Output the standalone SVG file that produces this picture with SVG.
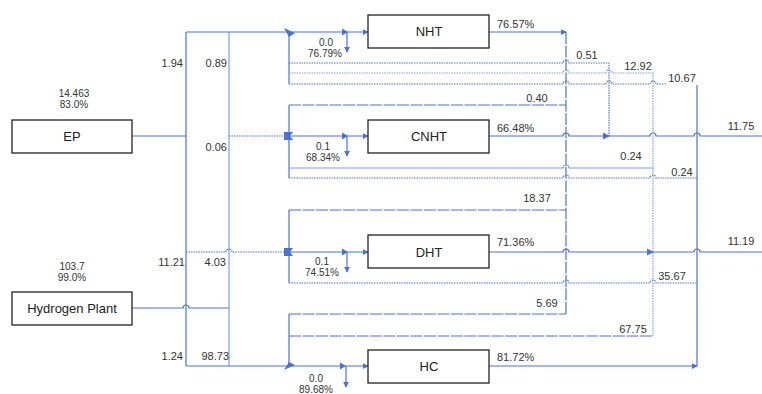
<svg xmlns="http://www.w3.org/2000/svg" width="762" height="394" viewBox="0 0 762 394">
<style>
.bg{fill:#ffffff}
.box rect{fill:#ffffff;stroke:#222;stroke-width:1.3}
.box text{font-family:"Liberation Sans",Arial,sans-serif;font-size:13px;fill:#222;text-anchor:middle}
.lbl{font-family:"Liberation Sans",Arial,sans-serif;font-size:11px;fill:#333}
.sm{font-size:10px}
.m{text-anchor:middle}
.e{text-anchor:end}
.ln{fill:none;stroke:#4a72d6;stroke-width:1.2}
.dot{stroke-dasharray:1.5 1}
.dash{stroke-dasharray:12 1.5}
.lt{stroke:#7f9ee6}
.ah{fill:#4a72d6}
</style>
<defs>
<marker id="arr" viewBox="0 0 8 8" refX="7" refY="4" markerWidth="6" markerHeight="6" orient="auto" markerUnits="userSpaceOnUse">
<path d="M0,0 L8,4 L0,8 z" fill="#4a72d6"/>
</marker>
</defs>
<rect class="bg" x="0" y="0" width="762" height="394"/>

<g id="connectors">
<!-- sources to headers -->
<path class="ln" d="M132,136 H186"/>
<path class="ln" d="M132,308 H183 a3,3 0 0 1 6,0 H229"/>
<path class="ln" d="M186,32 V366"/>
<path class="ln lt" d="M229,32 V366"/>
<!-- feeds -->
<path class="ln" d="M186,32 H368" marker-end="url(#arr)"/>
<path class="ln dot" d="M229,136 H289"/>
<path class="ln" d="M289,136 H368" marker-end="url(#arr)"/>
<path class="ln dot" d="M186,252 H226 a3,3 0 0 1 6,0 H289"/>
<path class="ln" d="M289,252 H368" marker-end="url(#arr)"/>
<path class="ln" d="M186,366 H368" marker-end="url(#arr)"/>
<!-- purge branches -->
<path class="ln" d="M347,32 V52" marker-end="url(#arr)"/>
<path class="ln" d="M347,136 V156" marker-end="url(#arr)"/>
<path class="ln" d="M347,252 V272" marker-end="url(#arr)"/>
<path class="ln" d="M346,366 V387" marker-end="url(#arr)"/>
<!-- mid arrows on feeds -->
<polygon class="ah" points="342,28.5 348,32 342,35.5"/>
<polygon class="ah" points="342,132.5 348,136 342,139.5"/>
<polygon class="ah" points="342,248.5 348,252 342,255.5"/>
<polygon class="ah" points="340,362.5 346,366 340,369.5"/>
<!-- junction markers -->
<polygon class="ah" points="284,28 295,33 289,37"/>
<polygon class="ah" points="284,132 293,132 290,136 293,140 284,140"/>
<polygon class="ah" points="284,248 293,248 290,252 293,256 284,256"/>
<polygon class="ah" points="284,370 295,365 289,362"/>
<!-- recycle headers at units -->
<path class="ln" d="M289,32 V84"/>
<path class="ln" d="M289,105 V178"/>
<path class="ln" d="M289,210 V283"/>
<path class="ln" d="M289,314 V366"/>
<!-- products -->
<path class="ln" d="M489,32 H566" marker-end="url(#arr)"/>
<path class="ln dash" d="M566,32 V314"/>
<path class="ln" d="M489,136 H563 a3,3 0 0 1 6,0 H650 a3,3 0 0 1 6,0 H694 a3,3 0 0 1 6,0 H762"/>
<path class="ln" d="M489,252 H563 a3,3 0 0 1 6,0 H694 a3,3 0 0 1 6,0 H762"/>
<path class="ln" d="M489,366 H697" marker-end="url(#arr)"/>
<!-- NHT recycles -->
<path class="ln dot" d="M289,63 H563 a3,3 0 0 1 6,0 H609 V136"/>
<polygon class="ah" points="603,132.5 610,136 603,139.5"/>
<path class="ln lt dot" d="M289,73 H563 a3,3 0 0 1 6,0 H606 a3,3 0 0 1 6,0 H653 V336"/>
<polygon class="ah" points="647,248.5 654,252 647,255.5"/>
<path class="ln dot" d="M289,84 H563 a3,3 0 0 1 6,0 H606 a3,3 0 0 1 6,0 H650 a3,3 0 0 1 6,0 H666"/>
<path class="ln" d="M697,85 V366"/>
<!-- CNHT recycles -->
<path class="ln dash" d="M289,105 H566"/>
<path class="ln lt" d="M289,168 H563 a3,3 0 0 1 6,0 H653"/>
<path class="ln dot" d="M289,178 H563 a3,3 0 0 1 6,0 H650 a3,3 0 0 1 6,0 H697"/>
<!-- DHT recycles -->
<path class="ln dash" d="M289,210 H566"/>
<path class="ln dot" d="M289,283 H563 a3,3 0 0 1 6,0 H650 a3,3 0 0 1 6,0 H697"/>
<!-- HC recycles -->
<path class="ln dash" d="M289,314 H566"/>
<path class="ln dash" d="M289,336 H653"/>
</g>

<g id="EP" class="box">
<rect x="12" y="120" width="120" height="33"/>
<text x="72" y="141">EP</text>
</g>
<g id="HydrogenPlant" class="box">
<rect x="12" y="292" width="120" height="33"/>
<text x="72" y="313">Hydrogen Plant</text>
</g>
<g id="NHT" class="box">
<rect x="368" y="15" width="121" height="33"/>
<text x="429" y="36">NHT</text>
</g>
<g id="CNHT" class="box">
<rect x="368" y="120" width="121" height="33"/>
<text x="429" y="141">CNHT</text>
</g>
<g id="DHT" class="box">
<rect x="368" y="235" width="121" height="33"/>
<text x="429" y="257">DHT</text>
</g>
<g id="HC" class="box">
<rect x="368" y="350" width="121" height="33"/>
<text x="429" y="371">HC</text>
</g>

<g id="labels" class="lbl">
<text class="m sm" x="74" y="97">14.463</text>
<text class="m sm" x="74" y="108">83.0%</text>
<text class="m sm" x="72" y="270">103.7</text>
<text class="m sm" x="72" y="281">99.0%</text>
<text class="e" x="183" y="67">1.94</text>
<text class="e" x="227" y="67">0.89</text>
<text class="e" x="227" y="151">0.06</text>
<text class="e" x="185" y="266">11.21</text>
<text class="e" x="226" y="266">4.03</text>
<text class="e" x="183" y="360">1.24</text>
<text class="e" x="229" y="360">98.73</text>
<text class="m sm" x="326" y="46">0.0</text>
<text class="m sm" x="325" y="57">76.79%</text>
<text class="m sm" x="323" y="150">0.1</text>
<text class="m sm" x="323" y="161">68.34%</text>
<text class="m sm" x="322" y="265">0.1</text>
<text class="m sm" x="322" y="276">74.51%</text>
<text class="m sm" x="316" y="382">0.0</text>
<text class="m sm" x="316" y="393">89.68%</text>
<text x="497" y="28">76.57%</text>
<text x="497" y="132">66.48%</text>
<text x="497" y="246">71.36%</text>
<text x="497" y="361">81.72%</text>
<text class="m" x="587" y="59">0.51</text>
<text class="m" x="638" y="70">12.92</text>
<text class="m" x="682" y="82">10.67</text>
<text class="m" x="537" y="102">0.40</text>
<text class="m" x="741" y="130">11.75</text>
<text class="m" x="631" y="160">0.24</text>
<text class="m" x="682" y="176">0.24</text>
<text class="m" x="537" y="202">18.37</text>
<text class="m" x="741" y="245">11.19</text>
<text class="m" x="672" y="280">35.67</text>
<text class="m" x="547" y="307">5.69</text>
<text class="m" x="633" y="333">67.75</text>
</g>
</svg>
